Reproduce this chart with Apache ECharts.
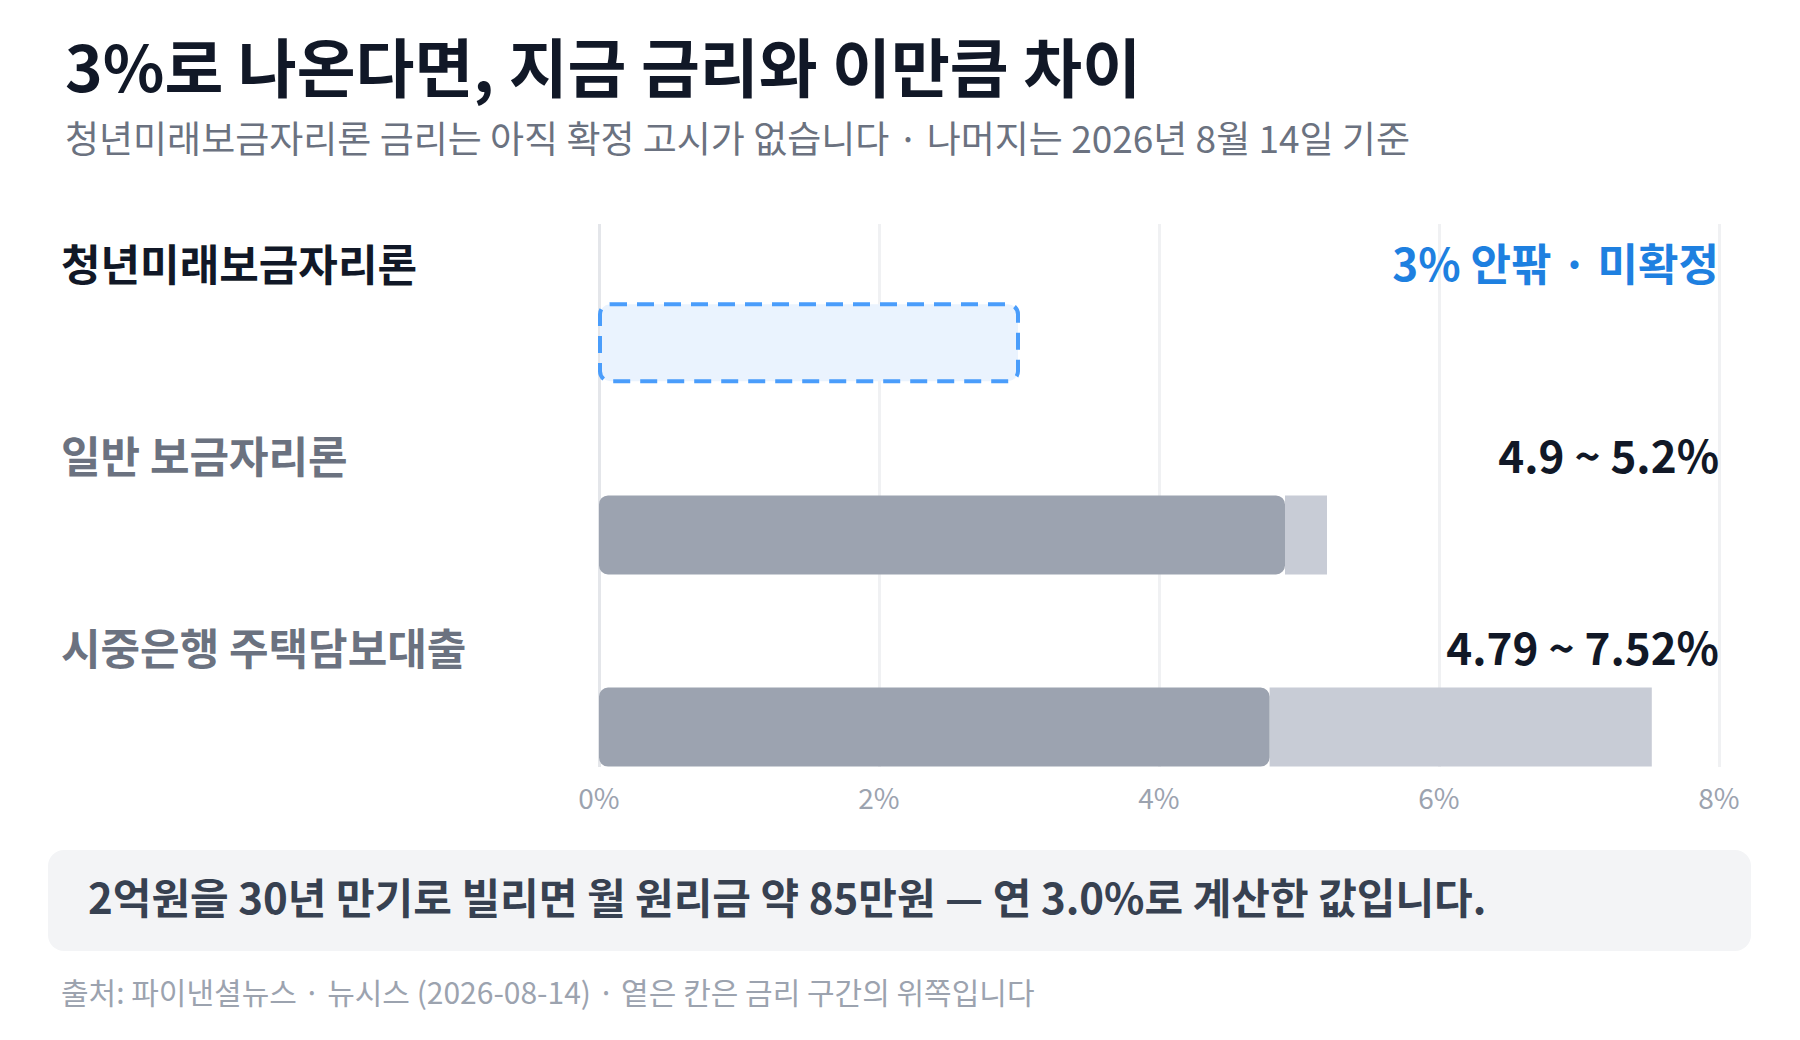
<!DOCTYPE html>
<html>
<head>
<meta charset="utf-8">
<script src="https://cdn.jsdelivr.net/npm/echarts@6/dist/echarts.min.js"></script>
<style>
  html, body { margin: 0; padding: 0; background: #ffffff; }
  #chart { width: 1800px; height: 1040px; }
</style>
</head>
<body>
<div id="chart"></div>
<script>
// ---- data ----
const categories = ['청년미래보금자리론', '일반 보금자리론', '시중은행 주택담보대출'];
const rateLow = [3, 4.9, 4.79];
const rateHigh = [3, 5.2, 7.52];
const confirmed = [false, true, true];
const rangeLabels = ['3% 안팎 · 미확정', '4.9 ~ 5.2%', '4.79 ~ 7.52%'];
const xTickValues = [0, 2, 4, 6, 8];

const titleText = '3%로 나온다면, 지금 금리와 이만큼 차이';
const subtitleText = '청년미래보금자리론 금리는 아직 확정 고시가 없습니다 · 나머지는 2026년 8월 14일 기준';
const noteText = '2억원을 30년 만기로 빌리면 월 원리금 약 85만원 — 연 3.0%로 계산한 값입니다.';
const sourceText = '출처: 파이낸셜뉴스 · 뉴시스 (2026-08-14) · 옅은 칸은 금리 구간의 위쪽입니다';

const FONT = "'Noto Sans CJK KR', 'Noto Sans', sans-serif";

const rows = categories.map((c, i) => [i, rateLow[i], rateHigh[i]]);

function renderItem(params, api) {
  const i = api.value(0);
  const lo = api.value(1);
  const hi = api.value(2);
  const p0 = api.coord([0, i]);
  const pLo = api.coord([lo, i]);
  const pHi = api.coord([hi, i]);
  const pEnd = api.coord([xTickValues[xTickValues.length - 1], i]);
  const barH = 79;
  const top = p0[1] - barH / 2;
  const labelY = p0[1] - 81;
  const children = [];
  if (!confirmed[i]) {
    children.push({
      type: 'rect',
      shape: { x: p0[0] + 1, y: top + 1, width: pLo[0] - p0[0] - 2, height: barH - 2, r: 10 },
      style: { fill: '#EAF3FE', stroke: '#4A9DFB', lineWidth: 4, lineDash: [17, 10] }
    });
  } else {
    children.push({
      type: 'rect',
      shape: { x: pLo[0], y: top, width: pHi[0] - pLo[0], height: barH },
      style: { fill: '#C8CCD6' }
    });
    children.push({
      type: 'rect',
      shape: { x: p0[0], y: top, width: pLo[0] - p0[0], height: barH, r: 9 },
      style: { fill: '#9CA3B0' }
    });
  }
  children.push({
    type: 'text',
    style: {
      text: categories[i], x: 61, y: labelY,
      align: 'left', verticalAlign: 'middle',
      fontSize: 43, fontWeight: 'bold', fontFamily: FONT,
      fill: i === 0 ? '#111827' : '#6B7280'
    }
  });
  children.push({
    type: 'text',
    style: {
      text: rangeLabels[i], x: pEnd[0], y: labelY,
      align: 'right', verticalAlign: 'middle',
      fontSize: 44, fontWeight: 'bold', fontFamily: FONT,
      fill: confirmed[i] ? '#111827' : '#1E80E0'
    }
  });
  return { type: 'group', children: children };
}

const chart = echarts.init(document.getElementById('chart'), null, { renderer: 'svg', width: 1800, height: 1040 });
chart.setOption({
  backgroundColor: '#ffffff',
  animation: false,
  title: [
    {
      text: titleText, left: 60, top: 21,
      textStyle: { fontSize: 64, fontWeight: 'bold', color: '#111827', fontFamily: FONT, lineHeight: 76 }
    },
    {
      text: subtitleText, left: 60, top: 110,
      textStyle: { fontSize: 37, fontWeight: 'normal', color: '#6B7280', fontFamily: FONT, lineHeight: 44 }
    }
  ],
  grid: { left: 599, right: 81, top: 224, bottom: 273, containLabel: false },
  xAxis: {
    type: 'value', min: 0, max: 8, interval: 2,
    axisLine: { show: false }, axisTick: { show: false },
    axisLabel: { formatter: '{value}%', color: '#9CA3AF', fontSize: 28, fontFamily: FONT, margin: 16 },
    splitLine: { show: true, lineStyle: { color: ['#E4E6EA', '#F0F1F3', '#F0F1F3', '#F0F1F3', '#F0F1F3'], width: 3 } }
  },
  yAxis: {
    type: 'value', inverse: true, min: -0.618, max: 2.208, show: false,
    splitLine: { show: false }
  },
  series: [{
    type: 'custom',
    renderItem: renderItem,
    data: rows,
    encode: { x: [1, 2], y: 0 },
    clip: false
  }],
  graphic: [
    {
      type: 'rect', left: 48, top: 850,
      shape: { width: 1703, height: 101, r: 16 },
      style: { fill: '#F3F4F6' }
    },
    {
      type: 'text', x: 88, y: 895,
      style: { text: noteText, fontSize: 42, fontWeight: 'bold', fill: '#374151', fontFamily: FONT, verticalAlign: 'middle', align: 'left' }
    },
    {
      type: 'text', x: 61, y: 991,
      style: { text: sourceText, fontSize: 30, fill: '#9CA3AF', fontFamily: FONT, verticalAlign: 'middle', align: 'left' }
    }
  ]
});
</script>
</body>
</html>
